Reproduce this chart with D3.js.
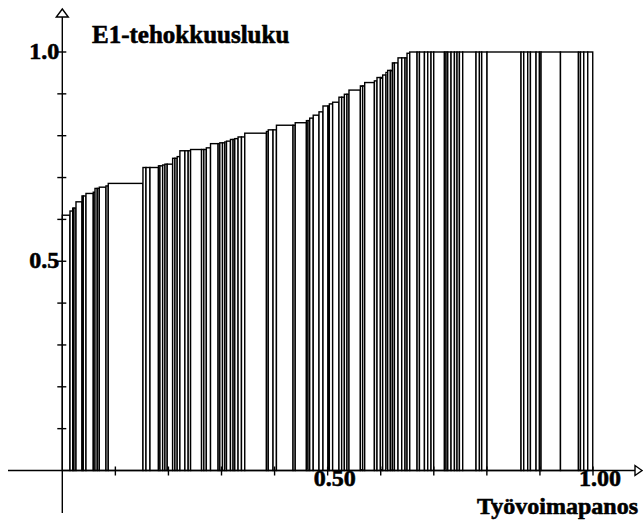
<!DOCTYPE html>
<html>
    <head>
        <meta charset="utf-8">
        <script type="text/javascript" src="https://cdn.jsdelivr.net/npm/d3@7"></script>
        <title>E1-tehokkuusluku</title>
        <style>
            body { margin: 0; background: #fff; }
            text { font-family: "Liberation Serif", "Times New Roman", serif; font-weight: bold; fill: #000; stroke: #000; stroke-width: 0.6px; }
        </style>
    </head>
    <body>
        <div id="chart"></div>
        <script>
// labour share of each unit (bar width), sorted by efficiency
var labour = [
    0.0145, 0.0051, 0.0024, 0.0038, 0.0113, 0.0024, 0.0051, 0.0138, 0.0032, 0.0043,
    0.0038, 0.0126, 0.0043, 0.0654, 0.0057, 0.0075, 0.0160, 0.0028, 0.0051, 0.0043,
    0.0043, 0.0102, 0.0043, 0.0043, 0.0051, 0.0094, 0.0062, 0.0045, 0.0207, 0.0043,
    0.0047, 0.0079, 0.0143, 0.0032, 0.0051, 0.0043, 0.0032, 0.0075, 0.0049, 0.0032,
    0.0062, 0.0064, 0.0062, 0.0409, 0.0034, 0.0090, 0.0064, 0.0313, 0.0041, 0.0211,
    0.0030, 0.0032, 0.0066, 0.0109, 0.0075, 0.0094, 0.0026, 0.0062, 0.0119, 0.0051,
    0.0051, 0.0049, 0.0038, 0.0215, 0.0043, 0.0038, 0.0183, 0.0049, 0.0064, 0.0043,
    0.0062, 0.0032, 0.0051, 0.0038, 0.0038, 0.0068, 0.0070, 0.0062, 0.0038, 0.0051,
    0.0138, 0.0045, 0.0094, 0.0062, 0.0062, 0.0051, 0.0202, 0.0030, 0.0032, 0.0062,
    0.0064, 0.0049, 0.0045, 0.0062, 0.0251, 0.0064, 0.0043, 0.0100, 0.0641, 0.0051,
    0.0075, 0.0051, 0.0106, 0.0064, 0.0030, 0.0366, 0.0339, 0.0038, 0.0062, 0.0075,
    0.0094
];

// E1 efficiency of each unit
var efficiency = [
    0.610, 0.620, 0.627, 0.627, 0.642, 0.656, 0.656, 0.662, 0.665, 0.674,
    0.674, 0.677, 0.680, 0.686, 0.724, 0.724, 0.724, 0.728, 0.728, 0.730,
    0.732, 0.732, 0.746, 0.746, 0.750, 0.764, 0.764, 0.764, 0.767, 0.767,
    0.767, 0.771, 0.781, 0.781, 0.783, 0.783, 0.785, 0.787, 0.791, 0.791,
    0.793, 0.797, 0.797, 0.806, 0.810, 0.814, 0.814, 0.825, 0.825, 0.831,
    0.836, 0.836, 0.842, 0.849, 0.857, 0.871, 0.871, 0.876, 0.880, 0.892,
    0.892, 0.899, 0.899, 0.909, 0.919, 0.919, 0.927, 0.931, 0.939, 0.939,
    0.945, 0.951, 0.956, 0.956, 0.974, 0.974, 0.986, 0.986, 0.986, 0.997,
    1.000, 1.000, 1.000, 1.000, 1.000, 1.000, 1.000, 1.000, 1.000, 1.000,
    1.000, 1.000, 1.000, 1.000, 1.000, 1.000, 1.000, 1.000, 1.000, 1.000,
    1.000, 1.000, 1.000, 1.000, 1.000, 1.000, 1.000, 1.000, 1.000, 1.000,
    1.000
];

var yTicks = [0.1, 0.2, 0.3, 0.4, 0.5, 0.6, 0.7, 0.8, 0.9, 1.0];
var yLabels = [0.5, 1.0];
var xTicks = [0.1, 0.2, 0.3, 0.4, 0.5, 0.6, 0.7, 0.8, 0.9, 1.0];
var xLabels = [0.5, 1.0];

var yTitle = "E1-tehokkuusluku";
var xTitle = "Työvoimapanos";

var width = 643, height = 521;

var x = d3.scaleLinear().domain([0, 1]).range([62.3, 593]);
var y = d3.scaleLinear().domain([0, 1]).range([470.5, 52]);

var ends = d3.cumsum(labour);
var bars = labour.map(function(w, i) {
    return {x0: ends[i] - w, x1: ends[i], e: efficiency[i]};
});

var svg = d3.select("#chart")
    .append("svg")
    .attr("width", width)
    .attr("height", height);

svg.append("g")
    .selectAll("rect")
    .data(bars)
    .enter()
    .append("rect")
    .attr("x", function(d) { return x(d.x0); })
    .attr("y", function(d) { return y(d.e); })
    .attr("width", function(d) { return x(d.x1) - x(d.x0); })
    .attr("height", function(d) { return y(0) - y(d.e); })
    .style("fill", "#fff")
    .style("stroke", "#000")
    .style("stroke-width", 1.4);

// axes
var axes = svg.append("g").style("stroke", "#000").style("stroke-width", 1.4);

axes.append("line")
    .attr("x1", 8).attr("x2", 635)
    .attr("y1", y(0)).attr("y2", y(0));

axes.append("line")
    .attr("x1", x(0)).attr("x2", x(0))
    .attr("y1", 513).attr("y2", 17);

axes.append("path")
    .attr("d", "M" + x(0) + ",9 L" + (x(0) + 6) + ",17 L" + (x(0) - 6) + ",17 Z")
    .style("fill", "#fff");

axes.append("path")
    .attr("d", "M642," + y(0) + " L635," + (y(0) - 5) + " L635," + (y(0) + 5) + " Z")
    .style("fill", "#fff");

axes.selectAll(".ytick")
    .data(yTicks)
    .enter()
    .append("line")
    .attr("x1", x(0) - 5).attr("x2", x(0) + 4)
    .attr("y1", function(d) { return y(d); })
    .attr("y2", function(d) { return y(d); });

axes.selectAll(".xtick")
    .data(xTicks)
    .enter()
    .append("line")
    .attr("x1", function(d) { return x(d); })
    .attr("x2", function(d) { return x(d); })
    .attr("y1", y(0) - 4).attr("y2", y(0) + 5);

svg.selectAll(".ylabel")
    .data(yLabels)
    .enter()
    .append("text")
    .attr("x", x(0) - 3)
    .attr("y", function(d) { return y(d) + 7; })
    .attr("text-anchor", "end")
    .style("font-size", "24px")
    .text(d3.format(".1f"));

svg.selectAll(".xlabel")
    .data(xLabels)
    .enter()
    .append("text")
    .attr("x", function(d) { return x(d) + 7; })
    .attr("y", 486)
    .attr("text-anchor", "middle")
    .style("font-size", "24px")
    .text(d3.format(".2f"));

svg.append("text")
    .attr("x", 92)
    .attr("y", 43)
    .style("font-size", "25px")
    .text(yTitle);

svg.append("text")
    .attr("x", 638)
    .attr("y", 514)
    .attr("text-anchor", "end")
    .style("font-size", "24px")
    .text(xTitle);
        </script>
    </body>
</html>
